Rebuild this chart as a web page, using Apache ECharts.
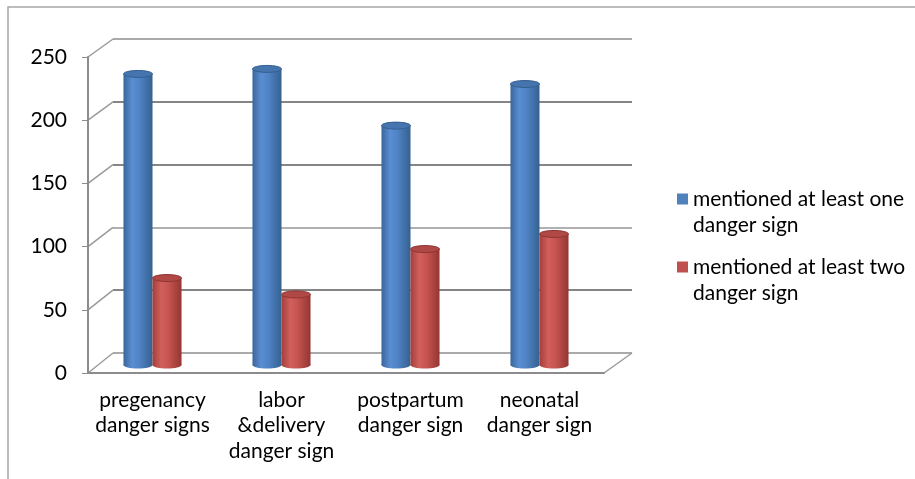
<!DOCTYPE html>
<html>
<head>
<meta charset="utf-8">
<script src="https://cdn.jsdelivr.net/npm/echarts@6/dist/echarts.min.js"></script>
<style>
  html, body { margin: 0; padding: 0; background: #fff; }
  #chart { width: 915px; height: 479px; }
</style>
</head>
<body>
<div id="chart"></div>
<script>
var categories = [
    "pregenancy\ndanger signs",
    "labor\n&delivery\ndanger sign",
    "postpartum\ndanger sign",
    "neonatal\ndanger sign"
];
var seriesNames = ["mentioned at least one danger sign", "mentioned at least two danger sign"];
var atLeastOne = [231, 235, 190, 223];
var atLeastTwo = [69, 56, 92, 104];
var yTicks = [0, 50, 100, 150, 200, 250];

var FONT = "Lato";
var FS = 21;
var front = { left: 88, right: 311, top: 57, bottom: 106 };   // front y axis / category axis
var back = { left: 113, right: 283, top: 39, bottom: 126 };   // back wall gridlines

// cylinder drawn from the axis scales: side -1 = left bar, +1 = right bar
function cylinder(stops, topColor, edgeColor, side) {
    return function(params, api) {
        var base = api.coord([api.value(0), 0]);
        var top = api.coord([api.value(0), api.value(1)]);
        var band = api.size([1, 0])[0];
        var w = band * 0.225;
        var cx = base[0] + side * w / 2;
        var ry = w * 0.12;
        var grad = new echarts.graphic.LinearGradient(0, 0, 1, 0, stops);
        return {
            type: 'group',
            children: [
                { type: 'ellipse', shape: { cx: cx, cy: base[1], rx: w / 2, ry: ry }, style: { fill: grad } },
                { type: 'rect', shape: { x: cx - w / 2, y: top[1], width: w, height: base[1] - top[1] }, style: { fill: grad } },
                { type: 'ellipse', shape: { cx: cx, cy: top[1], rx: w / 2, ry: ry }, style: { fill: topColor, stroke: edgeColor, lineWidth: 1 } }
            ]
        };
    };
}

var blueStops = [
    { offset: 0, color: '#3a659c' },
    { offset: 0.3, color: '#5a8ed2' },
    { offset: 0.55, color: '#4f83c6' },
    { offset: 1, color: '#35618f' }
];
var redStops = [
    { offset: 0, color: '#a33f3c' },
    { offset: 0.3, color: '#d25f5b' },
    { offset: 0.55, color: '#c65450' },
    { offset: 1, color: '#943633' }
];

function toData(vals) {
    return vals.map(function(v, i) { return [i, v]; });
}

var lineGray = '#8c8c8c';
var chart = echarts.init(document.getElementById('chart'));
chart.setOption({
    animation: false,
    textStyle: { fontFamily: FONT },
    grid: [
        { left: back.left, right: back.right, top: back.top, bottom: back.bottom },
        { left: front.left, right: front.right, top: front.top, bottom: front.bottom },
        { left: front.left, right: front.right, top: 50, bottom: 114 }
    ],
    xAxis: [
        { gridIndex: 0, type: 'category', data: categories, show: false },
        {
            gridIndex: 1, type: 'category', data: categories,
            axisLine: { lineStyle: { color: lineGray, width: 2 } },
            axisTick: { length: 5, lineStyle: { color: lineGray, width: 1 } },
            axisLabel: { color: '#000', fontSize: FS, lineHeight: 25.5, margin: 14, interval: 0, fontFamily: FONT }
        },
        { gridIndex: 2, type: 'category', data: categories, show: false }
    ],
    yAxis: [
        {
            gridIndex: 0, type: 'value', min: 0, max: 250, interval: 50,
            axisLine: { show: false }, axisTick: { show: false }, axisLabel: { show: false },
            splitLine: { lineStyle: { color: ['#aaaaaa', '#858585', '#b0b0b0', '#858585', '#858585', '#aaaaaa'], width: 2 } }
        },
        {
            gridIndex: 1, type: 'value', min: 0, max: 250, interval: 50,
            axisLine: { show: true, lineStyle: { color: lineGray, width: 2 } },
            axisTick: { show: true, length: 6, lineStyle: { color: lineGray, width: 1 } },
            axisLabel: { color: '#000', fontSize: FS, margin: 21, fontFamily: FONT },
            splitLine: { show: false }
        },
        { gridIndex: 2, type: 'value', min: 0, max: 250, show: false, splitLine: { show: false } }
    ],
    legend: {
        orient: 'vertical',
        left: 677,
        top: 160,
        padding: 0,
        itemGap: -10,
        itemWidth: 11,
        itemHeight: 11,
        icon: 'rect',
        data: seriesNames,
        formatter: function(name) {
            // leading empty line keeps the square beside the first text line
            return '\n' + name.replace(' danger sign', '\ndanger sign');
        },
        textStyle: { color: '#000', fontSize: FS, lineHeight: 26, fontFamily: FONT }
    },
    series: [
        {
            name: seriesNames[0], type: 'custom', xAxisIndex: 2, yAxisIndex: 2,
            itemStyle: { color: '#4f81bd' },
            renderItem: cylinder(blueStops, '#4574ae', '#35608f', -1),
            encode: { x: 0, y: 1 },
            data: toData(atLeastOne)
        },
        {
            name: seriesNames[1], type: 'custom', xAxisIndex: 2, yAxisIndex: 2,
            itemStyle: { color: '#c0504d' },
            renderItem: cylinder(redStops, '#b04946', '#8e3532', 1),
            encode: { x: 0, y: 1 },
            data: toData(atLeastTwo)
        }
    ]
});

// 3D perspective links between front axis and back wall, placed from the axis scales
var links = [];
yTicks.forEach(function(v) {
    var yf = chart.convertToPixel({ yAxisIndex: 1 }, v);
    var yb = chart.convertToPixel({ yAxisIndex: 0 }, v);
    links.push({
        type: 'line', silent: true,
        shape: { x1: front.left, y1: yf, x2: back.left, y2: yb },
        style: { stroke: '#9a9a9a', lineWidth: 1.5 }
    });
});
var yf0 = chart.convertToPixel({ yAxisIndex: 1 }, 0);
var yb0 = chart.convertToPixel({ yAxisIndex: 0 }, 0);
links.push({
    type: 'line', silent: true,
    shape: { x1: 915 - front.right, y1: yf0, x2: 915 - back.right, y2: yb0 },
    style: { stroke: '#9a9a9a', lineWidth: 1.5 }
});
links.push({
    type: 'rect', silent: true,
    shape: { x: 8, y: 7, width: 1000, height: 1000 },
    style: { fill: 'none', stroke: '#a6a6a6', lineWidth: 1.5 }
});
chart.setOption({ graphic: links });

window.addEventListener('resize', function() {
    chart.resize();
});
</script>
</body>
</html>
